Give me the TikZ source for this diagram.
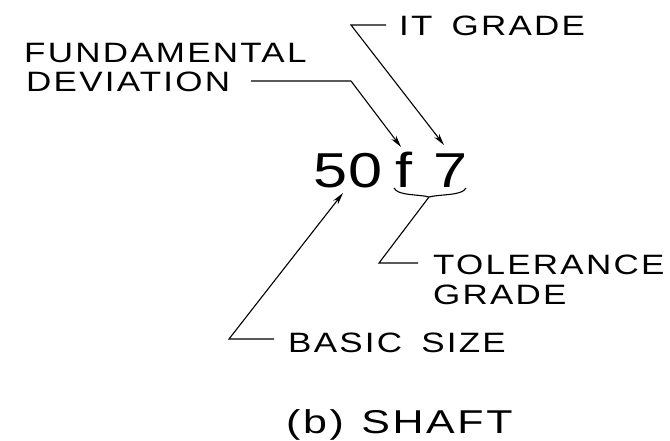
\documentclass[tikz,border=0pt]{standalone}
\usepackage{fontspec}
\setmainfont{Liberation Sans}
\newfontfamily\labfont[FakeStretch=1.25,LetterSpace=8,WordSpace=1.6]{Liberation Sans}
\newfontfamily\capfont[FakeStretch=1.3,LetterSpace=8,WordSpace=1.2]{Liberation Sans}
\newfontfamily\bigfont[FakeStretch=1.25,LetterSpace=3]{Liberation Sans}
\usetikzlibrary{arrows.meta}
\begin{document}
\begin{tikzpicture}[x=1pt,y=-1pt,
  lab/.style={inner sep=0pt,anchor=base west,font=\labfont\fontsize{28}{30}\selectfont},
  big/.style={inner sep=0pt,anchor=base west,font=\bigfont\fontsize{49}{50}\selectfont},
  lead/.style={line width=1.1pt,line join=miter},
  arr/.style={lead,-{Stealth[length=12pt,width=6pt]}}]
\useasboundingbox (0,0) rectangle (670,440);
% labels
\node[lab] (itg) at (399,35) {IT GRADE};
\node[lab] (fund) at (24,62) {FUNDAMENTAL};
\node[lab] (dev) at (26,91) {DEVIATION};
\node[lab] (tol) at (433,274) {TOLERANCE};
\node[lab] (tolg) at (433,304) {GRADE};
\node[lab] (bas) at (288,352) {BASIC SIZE};
\node[inner sep=0pt,anchor=base west,font=\capfont\fontsize{33}{35}\selectfont] (cap) at (286,433) {(b) SHAFT};
% designation
\node[big] (fifty) at (313,187) {50};
\node[big] (f) at (395,187) {f};
\node[big] (seven) at (433,187) {7};
% key points
\coordinate (itk) at (351,25);
\coordinate (devk) at (351,81);
\coordinate (basic) at (229,339);
\coordinate (tolk) at (379,263);
\coordinate (brc) at (429,197);
% brace under f7
\draw[lead] (394,188) .. controls (398,196) and (418,194) .. (brc)
            .. controls (440,194) and (462,196) .. (466,188);
% leaders
\draw[arr] (386,25) -- (itk) -- (444,145);
\draw[arr] (251,81) -- (devk) -- (401,147);
\draw[arr] (274,339) -- (basic) -- (343,193);
\draw[lead] (418,263) -- (tolk) -- (brc);
\end{tikzpicture}
\end{document}
